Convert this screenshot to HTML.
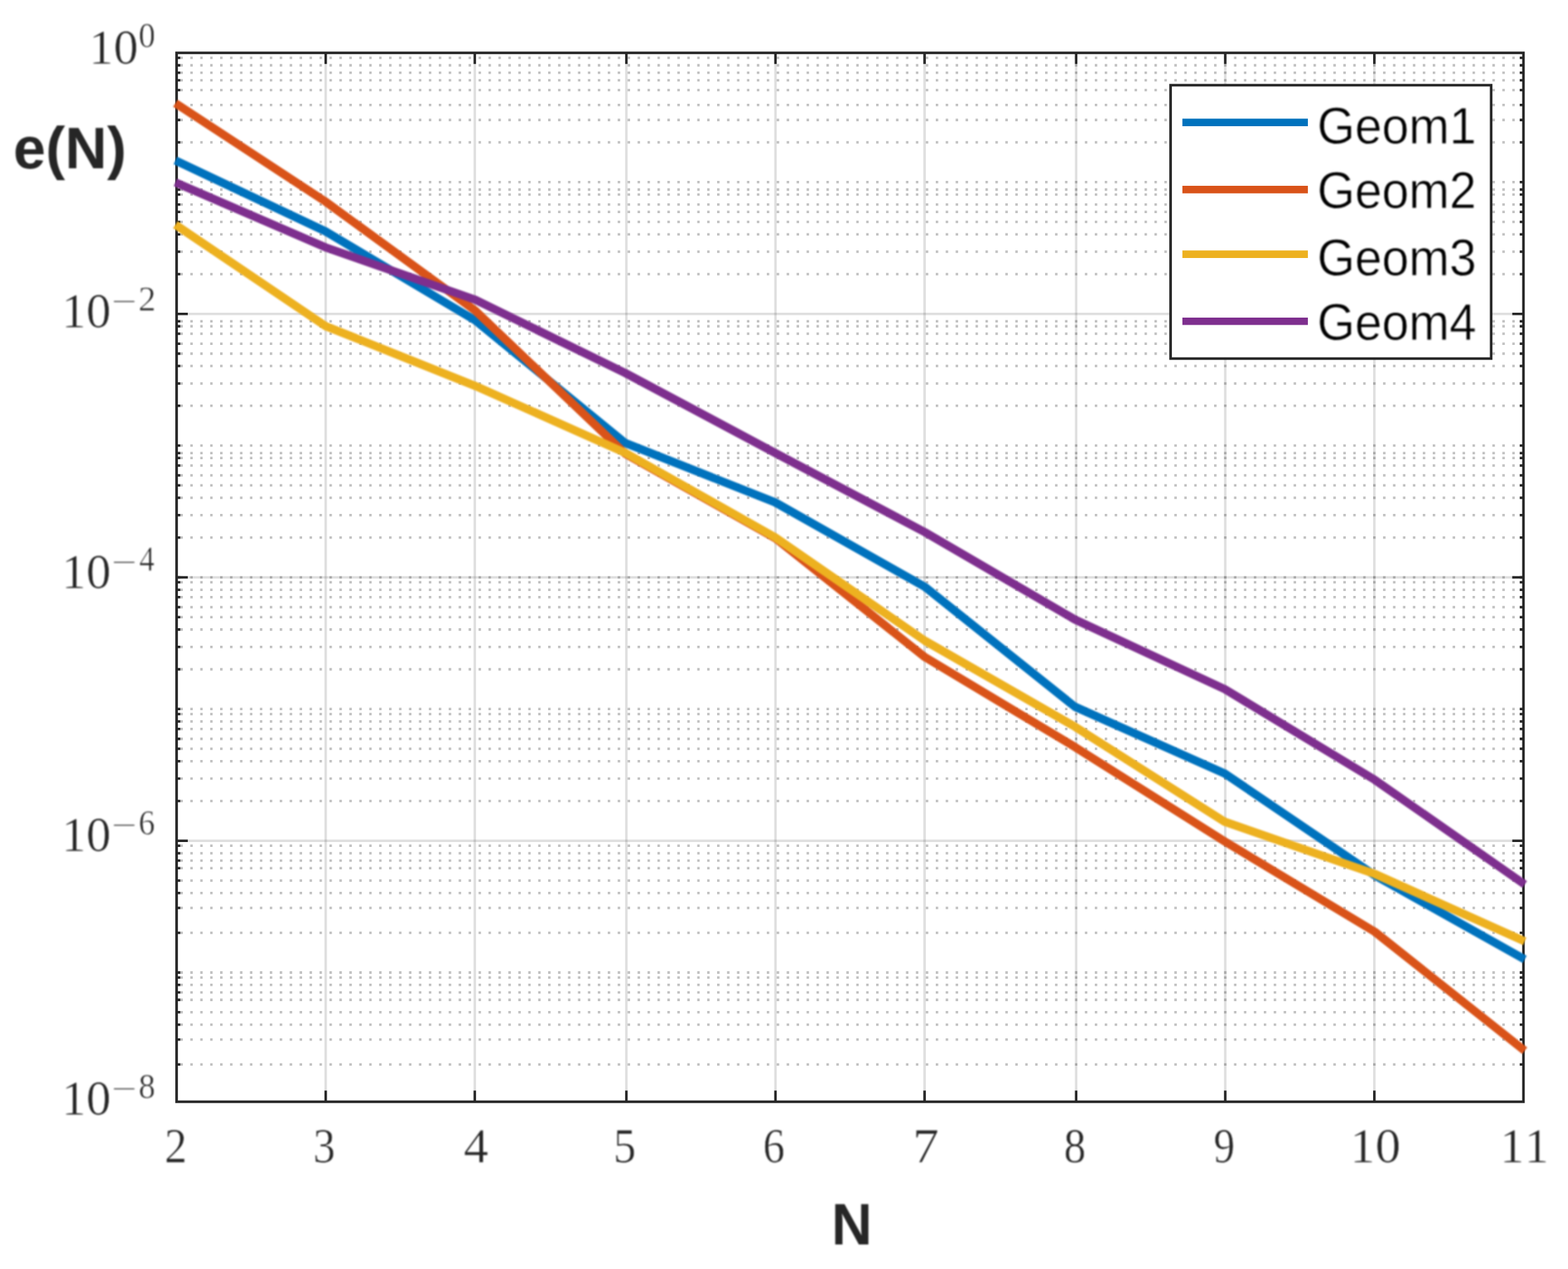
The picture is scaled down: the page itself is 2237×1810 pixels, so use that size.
<!DOCTYPE html>
<html lang="en">
<head>
<meta charset="utf-8">
<title>e(N) convergence plot</title>
<style>
html,body{margin:0;padding:0;background:#fff;}
body{width:2237px;height:1810px;overflow:hidden;}
svg{display:block;}
</style>
</head>
<body>
<svg width="2237" height="1810" viewBox="0 0 2237 1810">
<rect width="2237" height="1810" fill="#fff"/>
<defs><filter id="soft" filterUnits="userSpaceOnUse" x="0" y="0" width="2237" height="1810" color-interpolation-filters="sRGB"><feGaussianBlur stdDeviation="1.0"/></filter><filter id="edge" filterUnits="userSpaceOnUse" x="0" y="0" width="2237" height="1810" color-interpolation-filters="sRGB"><feGaussianBlur stdDeviation="0.55"/></filter></defs>
<g filter="url(#edge)">
<g stroke="#191919" stroke-opacity="0.27" stroke-width="3.545" stroke-dasharray="3.5452 10.6356" fill="none">
<path d="M257.27 82.49H2173.45"/>
<path d="M257.27 93.13H2173.45"/>
<path d="M257.27 103.76H2173.45"/>
<path d="M257.27 114.40H2173.45"/>
<path d="M257.27 128.58H2173.45"/>
<path d="M257.27 149.85H2173.45"/>
<path d="M257.27 171.12H2173.45"/>
<path d="M257.27 203.03H2173.45"/>
<path d="M257.27 259.75H2173.45"/>
<path d="M257.27 270.39H2173.45"/>
<path d="M257.27 277.48H2173.45"/>
<path d="M257.27 291.66H2173.45"/>
<path d="M257.27 302.29H2173.45"/>
<path d="M257.27 316.47H2173.45"/>
<path d="M257.27 334.20H2173.45"/>
<path d="M257.27 359.02H2173.45"/>
<path d="M257.27 390.92H2173.45"/>
<path d="M257.27 458.28H2173.45"/>
<path d="M257.27 465.37H2173.45"/>
<path d="M257.27 476.01H2173.45"/>
<path d="M257.27 490.19H2173.45"/>
<path d="M257.27 504.37H2173.45"/>
<path d="M257.27 522.10H2173.45"/>
<path d="M257.27 546.91H2173.45"/>
<path d="M257.27 578.82H2173.45"/>
<path d="M257.27 635.54H2173.45"/>
<path d="M257.27 646.18H2173.45"/>
<path d="M257.27 653.27H2173.45"/>
<path d="M257.27 663.90H2173.45"/>
<path d="M257.27 678.08H2173.45"/>
<path d="M257.27 692.26H2173.45"/>
<path d="M257.27 709.99H2173.45"/>
<path d="M257.27 734.81H2173.45"/>
<path d="M257.27 766.71H2173.45"/>
<path d="M257.27 823.44H2173.45"/>
<path d="M257.27 830.53H2173.45"/>
<path d="M257.27 841.16H2173.45"/>
<path d="M257.27 851.80H2173.45"/>
<path d="M257.27 865.98H2173.45"/>
<path d="M257.27 880.16H2173.45"/>
<path d="M257.27 897.89H2173.45"/>
<path d="M257.27 922.70H2173.45"/>
<path d="M257.27 954.61H2173.45"/>
<path d="M257.27 1011.33H2173.45"/>
<path d="M257.27 1018.42H2173.45"/>
<path d="M257.27 1029.06H2173.45"/>
<path d="M257.27 1039.69H2173.45"/>
<path d="M257.27 1053.88H2173.45"/>
<path d="M257.27 1068.06H2173.45"/>
<path d="M257.27 1085.78H2173.45"/>
<path d="M257.27 1110.60H2173.45"/>
<path d="M257.27 1142.51H2173.45"/>
<path d="M257.27 1206.32H2173.45"/>
<path d="M257.27 1216.95H2173.45"/>
<path d="M257.27 1227.59H2173.45"/>
<path d="M257.27 1238.23H2173.45"/>
<path d="M257.27 1255.95H2173.45"/>
<path d="M257.27 1273.68H2173.45"/>
<path d="M257.27 1294.95H2173.45"/>
<path d="M257.27 1330.40H2173.45"/>
<path d="M257.27 1387.12H2173.45"/>
<path d="M257.27 1394.21H2173.45"/>
<path d="M257.27 1404.85H2173.45"/>
<path d="M257.27 1415.49H2173.45"/>
<path d="M257.27 1426.12H2173.45"/>
<path d="M257.27 1443.85H2173.45"/>
<path d="M257.27 1461.57H2173.45"/>
<path d="M257.27 1482.84H2173.45"/>
<path d="M257.27 1518.30H2173.45"/>
</g>
<g stroke="#262626" stroke-opacity="0.15" stroke-width="3.545" fill="none">
<path d="M464.66 75.4V1571.47"/>
<path d="M677.37 75.4V1571.47"/>
<path d="M893.63 75.4V1571.47"/>
<path d="M1106.34 75.4V1571.47"/>
<path d="M1319.06 75.4V1571.47"/>
<path d="M1535.31 75.4V1571.47"/>
<path d="M1748.02 75.4V1571.47"/>
<path d="M1960.74 75.4V1571.47"/>
<path d="M251.95 447.65H2173.45"/>
<path d="M251.95 823.44H2173.45"/>
<path d="M251.95 1199.23H2173.45"/>
</g>
<g stroke="#262626" stroke-width="3.545" fill="none">
<path d="M251.95 82.49h5.32M2173.45 82.49h-5.32"/>
<path d="M251.95 93.13h5.32M2173.45 93.13h-5.32"/>
<path d="M251.95 103.76h5.32M2173.45 103.76h-5.32"/>
<path d="M251.95 114.40h5.32M2173.45 114.40h-5.32"/>
<path d="M251.95 128.58h5.32M2173.45 128.58h-5.32"/>
<path d="M251.95 149.85h5.32M2173.45 149.85h-5.32"/>
<path d="M251.95 171.12h5.32M2173.45 171.12h-5.32"/>
<path d="M251.95 203.03h5.32M2173.45 203.03h-5.32"/>
<path d="M251.95 259.75h5.32M2173.45 259.75h-5.32"/>
<path d="M251.95 270.39h5.32M2173.45 270.39h-5.32"/>
<path d="M251.95 277.48h5.32M2173.45 277.48h-5.32"/>
<path d="M251.95 291.66h5.32M2173.45 291.66h-5.32"/>
<path d="M251.95 302.29h5.32M2173.45 302.29h-5.32"/>
<path d="M251.95 316.47h5.32M2173.45 316.47h-5.32"/>
<path d="M251.95 334.20h5.32M2173.45 334.20h-5.32"/>
<path d="M251.95 359.02h5.32M2173.45 359.02h-5.32"/>
<path d="M251.95 390.92h5.32M2173.45 390.92h-5.32"/>
<path d="M251.95 458.28h5.32M2173.45 458.28h-5.32"/>
<path d="M251.95 465.37h5.32M2173.45 465.37h-5.32"/>
<path d="M251.95 476.01h5.32M2173.45 476.01h-5.32"/>
<path d="M251.95 490.19h5.32M2173.45 490.19h-5.32"/>
<path d="M251.95 504.37h5.32M2173.45 504.37h-5.32"/>
<path d="M251.95 522.10h5.32M2173.45 522.10h-5.32"/>
<path d="M251.95 546.91h5.32M2173.45 546.91h-5.32"/>
<path d="M251.95 578.82h5.32M2173.45 578.82h-5.32"/>
<path d="M251.95 635.54h5.32M2173.45 635.54h-5.32"/>
<path d="M251.95 646.18h5.32M2173.45 646.18h-5.32"/>
<path d="M251.95 653.27h5.32M2173.45 653.27h-5.32"/>
<path d="M251.95 663.90h5.32M2173.45 663.90h-5.32"/>
<path d="M251.95 678.08h5.32M2173.45 678.08h-5.32"/>
<path d="M251.95 692.26h5.32M2173.45 692.26h-5.32"/>
<path d="M251.95 709.99h5.32M2173.45 709.99h-5.32"/>
<path d="M251.95 734.81h5.32M2173.45 734.81h-5.32"/>
<path d="M251.95 766.71h5.32M2173.45 766.71h-5.32"/>
<path d="M251.95 823.44h5.32M2173.45 823.44h-5.32"/>
<path d="M251.95 830.53h5.32M2173.45 830.53h-5.32"/>
<path d="M251.95 841.16h5.32M2173.45 841.16h-5.32"/>
<path d="M251.95 851.80h5.32M2173.45 851.80h-5.32"/>
<path d="M251.95 865.98h5.32M2173.45 865.98h-5.32"/>
<path d="M251.95 880.16h5.32M2173.45 880.16h-5.32"/>
<path d="M251.95 897.89h5.32M2173.45 897.89h-5.32"/>
<path d="M251.95 922.70h5.32M2173.45 922.70h-5.32"/>
<path d="M251.95 954.61h5.32M2173.45 954.61h-5.32"/>
<path d="M251.95 1011.33h5.32M2173.45 1011.33h-5.32"/>
<path d="M251.95 1018.42h5.32M2173.45 1018.42h-5.32"/>
<path d="M251.95 1029.06h5.32M2173.45 1029.06h-5.32"/>
<path d="M251.95 1039.69h5.32M2173.45 1039.69h-5.32"/>
<path d="M251.95 1053.88h5.32M2173.45 1053.88h-5.32"/>
<path d="M251.95 1068.06h5.32M2173.45 1068.06h-5.32"/>
<path d="M251.95 1085.78h5.32M2173.45 1085.78h-5.32"/>
<path d="M251.95 1110.60h5.32M2173.45 1110.60h-5.32"/>
<path d="M251.95 1142.51h5.32M2173.45 1142.51h-5.32"/>
<path d="M251.95 1206.32h5.32M2173.45 1206.32h-5.32"/>
<path d="M251.95 1216.95h5.32M2173.45 1216.95h-5.32"/>
<path d="M251.95 1227.59h5.32M2173.45 1227.59h-5.32"/>
<path d="M251.95 1238.23h5.32M2173.45 1238.23h-5.32"/>
<path d="M251.95 1255.95h5.32M2173.45 1255.95h-5.32"/>
<path d="M251.95 1273.68h5.32M2173.45 1273.68h-5.32"/>
<path d="M251.95 1294.95h5.32M2173.45 1294.95h-5.32"/>
<path d="M251.95 1330.40h5.32M2173.45 1330.40h-5.32"/>
<path d="M251.95 1387.12h5.32M2173.45 1387.12h-5.32"/>
<path d="M251.95 1394.21h5.32M2173.45 1394.21h-5.32"/>
<path d="M251.95 1404.85h5.32M2173.45 1404.85h-5.32"/>
<path d="M251.95 1415.49h5.32M2173.45 1415.49h-5.32"/>
<path d="M251.95 1426.12h5.32M2173.45 1426.12h-5.32"/>
<path d="M251.95 1443.85h5.32M2173.45 1443.85h-5.32"/>
<path d="M251.95 1461.57h5.32M2173.45 1461.57h-5.32"/>
<path d="M251.95 1482.84h5.32M2173.45 1482.84h-5.32"/>
<path d="M251.95 1518.30h5.32M2173.45 1518.30h-5.32"/>
<path d="M251.95 447.65h15.95M2173.45 447.65h-15.95"/>
<path d="M251.95 823.44h15.95M2173.45 823.44h-15.95"/>
<path d="M251.95 1199.23h15.95M2173.45 1199.23h-15.95"/>
<path d="M464.66 1571.47v-15.95M464.66 75.4v15.95"/>
<path d="M677.37 1571.47v-15.95M677.37 75.4v15.95"/>
<path d="M893.63 1571.47v-15.95M893.63 75.4v15.95"/>
<path d="M1106.34 1571.47v-15.95M1106.34 75.4v15.95"/>
<path d="M1319.06 1571.47v-15.95M1319.06 75.4v15.95"/>
<path d="M1535.31 1571.47v-15.95M1535.31 75.4v15.95"/>
<path d="M1748.02 1571.47v-15.95M1748.02 75.4v15.95"/>
<path d="M1960.74 1571.47v-15.95M1960.74 75.4v15.95"/>
</g>
<rect x="251.95" y="75.4" width="1921.50" height="1496.07" fill="none" stroke="#262626" stroke-width="3.695"/>
</g>
<g filter="url(#soft)">
<polyline points="250.2,228.9 464.1,329.8 678.0,457.0 891.9,631.8 1105.8,716.5 1319.6,837.2 1533.5,1008.0 1747.4,1103.3 1961.3,1248.5 2175.2,1368.4" fill="none" stroke="#0072BD" stroke-width="11.81" stroke-linejoin="round" stroke-linecap="butt"/>
<polyline points="250.2,147.2 464.1,287.4 678.0,443.0 891.9,647.0 1105.8,767.5 1319.6,937.3 1533.5,1065.4 1747.4,1200.2 1961.3,1329.0 2175.2,1498.6" fill="none" stroke="#D95319" stroke-width="11.81" stroke-linejoin="round" stroke-linecap="butt"/>
<polyline points="250.2,320.5 464.1,464.9 678.0,550.4 891.9,645.9 1105.8,766.3 1319.6,914.0 1533.5,1036.4 1747.4,1172.2 1961.3,1246.5 2175.2,1342.7" fill="none" stroke="#EDB120" stroke-width="11.81" stroke-linejoin="round" stroke-linecap="butt"/>
<polyline points="250.2,260.2 464.1,352.7 678.0,427.5 891.9,532.0 1105.8,646.0 1319.6,759.1 1533.5,883.6 1747.4,983.0 1961.3,1112.3 2175.2,1261.5" fill="none" stroke="#7E2F8E" stroke-width="11.81" stroke-linejoin="round" stroke-linecap="butt"/>
</g>
<g filter="url(#edge)">
<rect x="1670.03" y="121.49" width="457.33" height="389.97" fill="#fff" stroke="#262626" stroke-width="3.695"/>
<path d="M1686.87 174.67H1865.90" stroke="#0072BD" stroke-width="10.64" fill="none"/>
<path d="M1686.87 270.39H1865.90" stroke="#D95319" stroke-width="10.64" fill="none"/>
<path d="M1686.87 362.56H1865.90" stroke="#EDB120" stroke-width="10.64" fill="none"/>
<path d="M1686.87 458.28H1865.90" stroke="#7E2F8E" stroke-width="10.64" fill="none"/>
</g>
<g filter="url(#soft)">
<text transform="translate(1879.14 204.90) scale(0.9449 1)" font-family="'Liberation Sans', Arial, Helvetica, sans-serif" font-size="73.29" fill="#000" stroke="#fff" stroke-width="0.8">Geom1</text>
<text transform="translate(1879.14 296.90) scale(0.9449 1)" font-family="'Liberation Sans', Arial, Helvetica, sans-serif" font-size="73.29" fill="#000" stroke="#fff" stroke-width="0.8">Geom2</text>
<text transform="translate(1879.14 392.70) scale(0.9449 1)" font-family="'Liberation Sans', Arial, Helvetica, sans-serif" font-size="73.29" fill="#000" stroke="#fff" stroke-width="0.8">Geom3</text>
<text transform="translate(1879.14 485.00) scale(0.9449 1)" font-family="'Liberation Sans', Arial, Helvetica, sans-serif" font-size="73.29" fill="#000" stroke="#fff" stroke-width="0.8">Geom4</text>
<text font-family="'Liberation Serif', 'Times New Roman', serif" fill="#262626" stroke="#fff" stroke-width="0.7"><tspan x="126.86" y="91.20" font-size="70.15" textLength="70.46" lengthAdjust="spacingAndGlyphs">10</tspan><tspan x="197.70" y="66.70" font-size="50.00" textLength="23.81" lengthAdjust="spacingAndGlyphs">0</tspan></text>
<text font-family="'Liberation Serif', 'Times New Roman', serif" fill="#262626" stroke="#fff" stroke-width="0.7"><tspan x="87.66" y="467.00" font-size="70.15" textLength="70.46" lengthAdjust="spacingAndGlyphs">10</tspan><tspan x="158.74" y="444.07" font-size="42.00" textLength="36.72" lengthAdjust="spacingAndGlyphs">−</tspan><tspan x="197.60" y="442.50" font-size="50.00" textLength="25.00" lengthAdjust="spacingAndGlyphs">2</tspan></text>
<text font-family="'Liberation Serif', 'Times New Roman', serif" fill="#262626" stroke="#fff" stroke-width="0.7"><tspan x="87.66" y="838.80" font-size="70.15" textLength="70.46" lengthAdjust="spacingAndGlyphs">10</tspan><tspan x="158.74" y="815.87" font-size="42.00" textLength="36.72" lengthAdjust="spacingAndGlyphs">−</tspan><tspan x="198.73" y="814.30" font-size="50.00" textLength="21.74" lengthAdjust="spacingAndGlyphs">4</tspan></text>
<text font-family="'Liberation Serif', 'Times New Roman', serif" fill="#262626" stroke="#fff" stroke-width="0.7"><tspan x="87.66" y="1214.40" font-size="70.15" textLength="70.46" lengthAdjust="spacingAndGlyphs">10</tspan><tspan x="158.74" y="1191.47" font-size="42.00" textLength="36.72" lengthAdjust="spacingAndGlyphs">−</tspan><tspan x="197.74" y="1189.90" font-size="50.00" textLength="23.26" lengthAdjust="spacingAndGlyphs">6</tspan></text>
<text font-family="'Liberation Serif', 'Times New Roman', serif" fill="#262626" stroke="#fff" stroke-width="0.7"><tspan x="87.66" y="1590.40" font-size="70.15" textLength="70.46" lengthAdjust="spacingAndGlyphs">10</tspan><tspan x="158.74" y="1567.47" font-size="42.00" textLength="36.72" lengthAdjust="spacingAndGlyphs">−</tspan><tspan x="197.70" y="1565.90" font-size="50.00" textLength="23.81" lengthAdjust="spacingAndGlyphs">8</tspan></text>
<text transform="translate(234.74 1657.70) scale(0.9123 1)" font-family="'Liberation Serif', 'Times New Roman', serif" font-size="70.15" fill="#262626" stroke="#fff" stroke-width="0.7">2</text>
<text transform="translate(446.64 1657.70) scale(0.9005 1)" font-family="'Liberation Serif', 'Times New Roman', serif" font-size="70.15" fill="#262626" stroke="#fff" stroke-width="0.7">3</text>
<text transform="translate(661.58 1657.70) scale(1.0102 1)" font-family="'Liberation Serif', 'Times New Roman', serif" font-size="70.15" fill="#262626" stroke="#fff" stroke-width="0.7">4</text>
<text transform="translate(875.01 1657.70) scale(0.9230 1)" font-family="'Liberation Serif', 'Times New Roman', serif" font-size="70.15" fill="#262626" stroke="#fff" stroke-width="0.7">5</text>
<text transform="translate(1088.52 1657.70) scale(0.8851 1)" font-family="'Liberation Serif', 'Times New Roman', serif" font-size="70.15" fill="#262626" stroke="#fff" stroke-width="0.7">6</text>
<text transform="translate(1302.03 1657.70) scale(1.0727 1)" font-family="'Liberation Serif', 'Times New Roman', serif" font-size="70.15" fill="#262626" stroke="#fff" stroke-width="0.7">7</text>
<text transform="translate(1517.79 1657.70) scale(0.8960 1)" font-family="'Liberation Serif', 'Times New Roman', serif" font-size="70.15" fill="#262626" stroke="#fff" stroke-width="0.7">8</text>
<text transform="translate(1731.39 1657.70) scale(0.8619 1)" font-family="'Liberation Serif', 'Times New Roman', serif" font-size="70.15" fill="#262626" stroke="#fff" stroke-width="0.7">9</text>
<text transform="translate(1925.76 1657.70) scale(1.0355 1)" font-family="'Liberation Serif', 'Times New Roman', serif" font-size="70.15" fill="#262626" stroke="#fff" stroke-width="0.7">10</text>
<text x="2139.69" y="1657.7" letter-spacing="2.6" font-family="'Liberation Serif', 'Times New Roman', serif" font-size="70.15" fill="#262626" stroke="#fff" stroke-width="0.7">11</text>
<text transform="translate(19.08 239.80) scale(0.9952 1)" font-family="'Liberation Sans', Arial, Helvetica, sans-serif" font-weight="bold" font-size="83.30" fill="#262626">e(N)</text>
<text transform="translate(1186.18 1774.65) scale(0.9616 1)" font-family="'Liberation Sans', Arial, Helvetica, sans-serif" font-weight="bold" font-size="83.55" fill="#262626">N</text>
</g>
</svg>
</body>
</html>
